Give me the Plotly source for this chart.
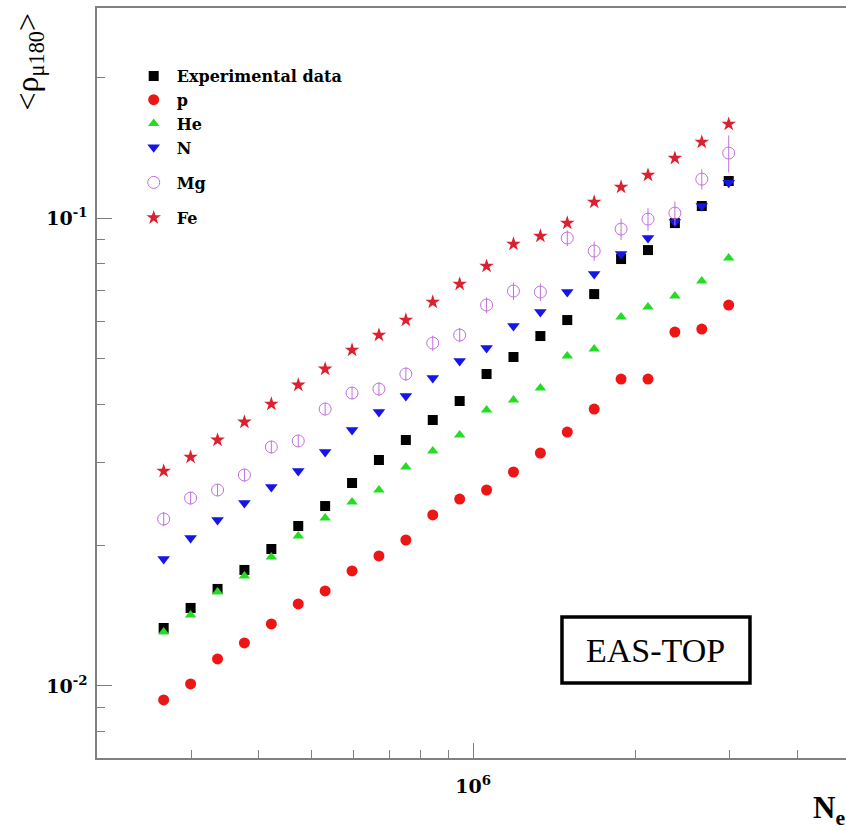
import plotly.graph_objects as go

# Shower size bins (N_e)
ne = [2.66e5, 2.985e5, 3.35e5, 3.758e5, 4.217e5, 4.732e5, 5.309e5, 5.957e5,
      6.683e5, 7.499e5, 8.414e5, 9.441e5, 1.0593e6, 1.1885e6, 1.3335e6, 1.4962e6,
      1.6788e6, 1.8836e6, 2.1135e6, 2.3714e6, 2.6607e6, 2.9854e6]

exp_data = [0.01330, 0.01468, 0.01612, 0.01770, 0.01962, 0.02197, 0.02424, 0.02715,
            0.03040, 0.03355, 0.03702, 0.04064, 0.04642, 0.05047, 0.05596, 0.06054,
            0.06879, 0.08174, 0.08543, 0.09757, 0.1061, 0.1200]
p_vals = [0.009335, 0.01010, 0.01142, 0.01236, 0.01357, 0.01497, 0.01596, 0.01761,
          0.01896, 0.02051, 0.02320, 0.02509, 0.02623, 0.02866, 0.03147, 0.03489,
          0.03907, 0.04529, 0.04529, 0.05706, 0.05791, 0.06518]
he_vals = [0.01304, 0.01418, 0.01588, 0.01718, 0.01886, 0.02091, 0.02286, 0.02473,
           0.02623, 0.02937, 0.03178, 0.03438, 0.03888, 0.04084, 0.04333, 0.05071,
           0.05248, 0.06144, 0.06454, 0.06813, 0.07336, 0.08214]
n_vals = [0.01868, 0.02071, 0.02263, 0.02460, 0.02662, 0.02880, 0.03162, 0.03524,
          0.03850, 0.04166, 0.04551, 0.04948, 0.05275, 0.05877, 0.06296, 0.06948,
          0.07592, 0.08378, 0.09064, 0.09806, 0.1061, 0.1190]
mg_vals = [0.02274, 0.02521, 0.02623, 0.02824, 0.03241, 0.03339, 0.03907, 0.04228,
           0.04311, 0.04642, 0.05406, 0.05623, 0.06518, 0.06982, 0.06948, 0.09064,
           0.08502, 0.09474, 0.0995, 0.1025, 0.1211, 0.1377]
mg_err = [0.0008, 0.0008, 0.0008, 0.0009, 0.0010, 0.0010, 0.0012, 0.0013,
          0.0014, 0.0015, 0.0020, 0.0020, 0.0025, 0.0030, 0.0030, 0.0035,
          0.0040, 0.0050, 0.0055, 0.0060, 0.0060, 0.0125]
fe_vals = [0.02880, 0.03085, 0.03355, 0.03666, 0.04005, 0.04398, 0.04758, 0.05224,
           0.05623, 0.06054, 0.06615, 0.07228, 0.07896, 0.08800, 0.09154, 0.09757,
           0.1082, 0.1165, 0.1236, 0.1343, 0.1454, 0.1588]

x_major = [1e6]
x_major_text = ["<b>10</b><sup><b>6</b></sup>"]
x_minor = [3e5, 4e5, 5e5, 6e5, 7e5, 8e5, 9e5, 2e6, 3e6, 4e6, 5e6]
y_major = [0.01, 0.1]
y_major_text = ["<b>10</b><sup><b>-2</b></sup>", "<b>10</b><sup><b>-1</b></sup>"]
y_minor = [0.008, 0.009, 0.02, 0.03, 0.04, 0.05, 0.06, 0.07, 0.08, 0.09, 0.2]

fig = go.Figure()

fig.add_trace(go.Scatter(x=ne, y=exp_data, mode="markers", name="Experimental data",
                         marker=dict(symbol="square", size=10, color="#000000"),
                         legend="legend"))
fig.add_trace(go.Scatter(x=ne, y=p_vals, mode="markers", name="p",
                         marker=dict(symbol="circle", size=11, color="#ee1515"),
                         legend="legend"))
fig.add_trace(go.Scatter(x=ne, y=he_vals, mode="markers", name="He",
                         marker=dict(symbol="triangle-up", size=10, color="#22dd22"),
                         legend="legend"))
fig.add_trace(go.Scatter(x=ne, y=n_vals, mode="markers", name="N",
                         marker=dict(symbol="triangle-down", size=11, color="#1515e8"),
                         legend="legend"))
fig.add_trace(go.Scatter(x=ne, y=mg_vals, mode="markers", name="Mg",
                         error_y=dict(type="data", array=mg_err, color="#c070dd",
                                      width=0, thickness=1),
                         marker=dict(symbol="circle-open", size=12, color="#c070dd",
                                     line=dict(width=1)),
                         legend="legend2"))
fig.add_trace(go.Scatter(x=ne, y=fe_vals, mode="markers", name="Fe",
                         marker=dict(symbol="star", size=11, color="#dd2030"),
                         legend="legend3"))

axis_col = "#808080"
leg_font = dict(family="DejaVu Serif", size=16, color="black", weight="bold")

fig.update_layout(
    width=846, height=831,
    margin=dict(l=97, r=0, t=8, b=73),
    paper_bgcolor="white", plot_bgcolor="white",
    showlegend=True,
    legend=dict(x=0.045, y=0.932, xanchor="left", yanchor="top",
                bgcolor="rgba(0,0,0,0)", font=leg_font, tracegroupgap=0,
                itemwidth=36),
    legend2=dict(x=0.045, y=0.790, xanchor="left", yanchor="top",
                 bgcolor="rgba(0,0,0,0)", font=leg_font, itemwidth=36),
    legend3=dict(x=0.045, y=0.743, xanchor="left", yanchor="top",
                 bgcolor="rgba(0,0,0,0)", font=leg_font, itemwidth=36),
    xaxis=dict(type="log", range=[5.301, 6.693], showgrid=False, zeroline=False,
               showline=True, linecolor=axis_col, linewidth=1.5, mirror=True,
               ticks="inside", ticklen=15, tickcolor=axis_col, tickwidth=1,
               tickvals=x_major, ticktext=x_major_text,
               tickfont=dict(family="DejaVu Serif", size=19, color="black"),
               ticklabelstandoff=10,
               minor=dict(tickvals=x_minor, ticks="inside", ticklen=8,
                          tickcolor=axis_col, tickwidth=1, showgrid=False)),
    yaxis=dict(type="log", range=[-2.154, -0.551], showgrid=False, zeroline=False,
               showline=True, linecolor=axis_col, linewidth=1.5,
               ticks="inside", ticklen=15, tickcolor=axis_col, tickwidth=1,
               tickvals=y_major, ticktext=y_major_text,
               tickfont=dict(family="DejaVu Serif", size=19, color="black"),
               ticklabelstandoff=4,
               minor=dict(tickvals=y_minor, ticks="inside", ticklen=8,
                          tickcolor=axis_col, tickwidth=1, showgrid=False)),
)

# y-axis title
fig.add_annotation(xref="paper", yref="paper", x=-0.09, y=0.928,
                   text="&lt;ρ<sub>μ180</sub>&gt;", textangle=-90, showarrow=False,
                   xanchor="center", yanchor="middle",
                   font=dict(family="Liberation Serif", size=32, color="black"))
# x-axis title
fig.add_annotation(xref="paper", yref="paper", x=0.953, y=-0.04,
                   text="<b>N<sub>e</sub></b>", showarrow=False,
                   xanchor="left", yanchor="top",
                   font=dict(family="Liberation Serif", size=31, color="black"))
# EAS-TOP box
fig.add_shape(type="rect", xref="paper", yref="paper",
              x0=0.6208, x1=0.8718, y0=0.100, y1=0.188,
              line=dict(color="black", width=3.5), fillcolor="white")
fig.add_annotation(xref="paper", yref="paper", x=0.7463, y=0.1435,
                   text="EAS-TOP", showarrow=False,
                   xanchor="center", yanchor="middle",
                   font=dict(family="Liberation Serif", size=34, color="black"))

fig.write_html("out.html")
